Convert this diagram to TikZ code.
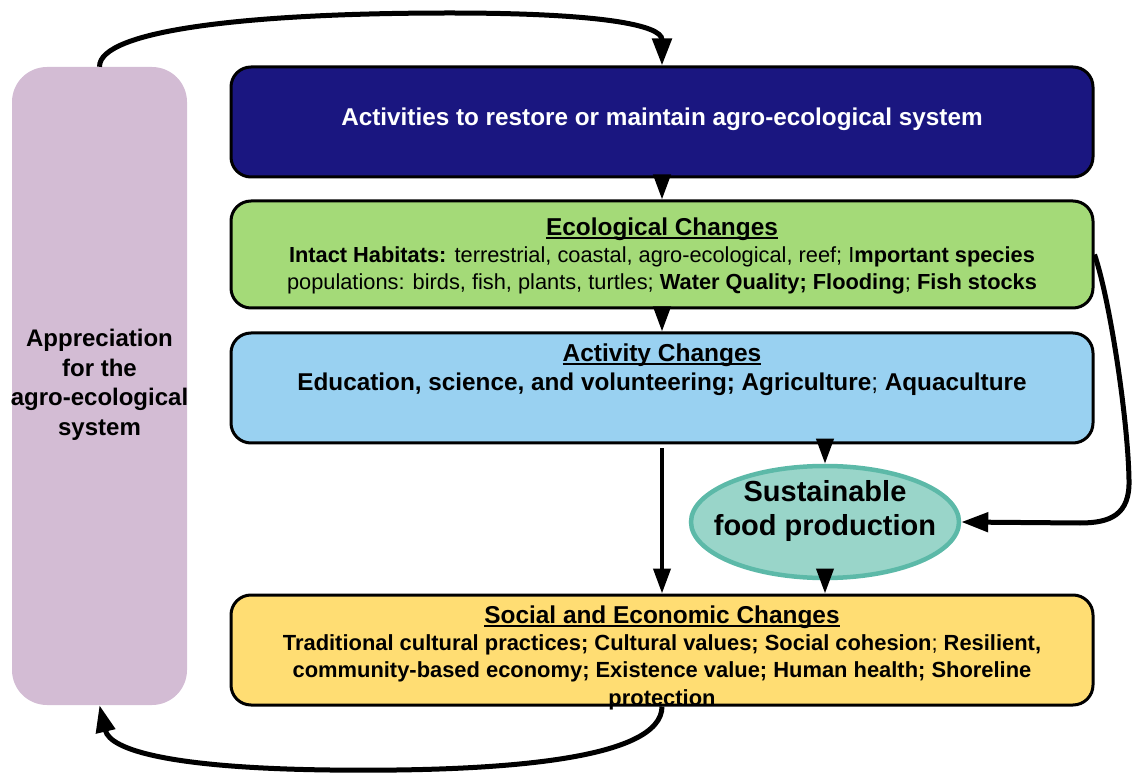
\documentclass[tikz,border=0pt]{standalone}
\usepackage{fontspec}
\setmainfont{Liberation Sans}
\usetikzlibrary{arrows.meta,shapes.geometric}
\definecolor{navybox}{HTML}{1A1680}
\definecolor{greenbox}{HTML}{A4DA78}
\definecolor{bluebox}{HTML}{99D1F1}
\definecolor{yellowbox}{HTML}{FFDD73}
\definecolor{purplebox}{HTML}{D3BCD4}
\definecolor{foodfill}{HTML}{99D5C9}
\definecolor{fooddraw}{HTML}{5CB9A8}
\tikzset{
  panel/.style={draw=black, line width=3pt, rounded corners=20pt, minimum width=862pt, inner sep=0pt},
  txt/.style={align=center, inner sep=0pt},
  arr/.style={-{Triangle[length=25pt,width=17pt]}, line width=4pt},
  arrc/.style={-{Triangle[length=27pt,width=19pt]}, line width=5pt},
}
\newcommand{\fs}[2]{\fontsize{#1}{#2}\selectfont}
\newcommand{\myul}[1]{\setbox0=\hbox{#1}\rlap{\rule[-3.5pt]{\wd0}{2pt}}\box0}
\begin{document}
\begin{tikzpicture}[x=1pt,y=-1pt]
\useasboundingbox (0,0) rectangle (1133,775);
% boxes
\node[fill=purplebox, rounded corners=35pt, minimum width=175pt, minimum height=638pt, inner sep=0pt] (purple) at (99.5,386) {};
\node[panel, fill=navybox, minimum height=110pt] (act) at (662,122) {};
\node[panel, fill=greenbox, minimum height=107pt] (eco) at (662,254.5) {};
\node[panel, fill=bluebox, minimum height=110pt] (actv) at (662,388) {};
\node[ellipse, draw=fooddraw, fill=foodfill, line width=4.5pt, minimum width=268pt, minimum height=112pt, inner sep=0pt] (food) at (825,522) {};
\node[panel, fill=yellowbox, minimum height=110pt] (soc) at (662,650) {};
% texts
\node[txt, font=\fs{24}{29.5}\bfseries] (appt) at (99.5,385) {Appreciation\\for the\\agro-ecological\\system};
\node[txt, text=white, font=\fs{24.3}{26}\bfseries] (actt) at (662,119) {Activities to restore or maintain agro-ecological system};
\node[txt, font=\fs{21.8}{27}] (ecot) at (662,256) {{\fs{24.4}{27}\bfseries\myul{Ecological Changes}}\\
\textbf{Intact Habitats:} terrestrial, coastal, agro-ecological, reef; I\textbf{mportant species}\\
populations: birds, fish, plants, turtles; \textbf{Water Quality; Flooding}; \textbf{Fish stocks}};
\node[txt, font=\fs{24.3}{29}] (actvt) at (662,369.5) {{\fs{24.5}{29}\bfseries\myul{Activity Changes}}\\
\textbf{Education, science, and volunteering; Agriculture}; \textbf{Aquaculture}};
\node[txt, font=\fs{29}{34}\bfseries] (foodt) at (825,511) {Sustainable\\food production};
\node[txt, font=\fs{21.9}{27.3}\bfseries] (soct) at (662,657.5) {{\fs{24.4}{27}\bfseries\myul{Social and Economic Changes}}\\
Traditional cultural practices; Cultural values; Social cohesion\textmd{;} Resilient,\\
community-based economy; Existence value; Human health; Shoreline\\
protection};
% connectors
\draw[arr] (act.south) -- (eco.north);
\draw[arr] (eco.south) -- (actv.north);
\draw[arr] (actv.south -| food.north) -- (food.north);
\draw[arr] ([yshift=-4pt]actv.south) -- (soc.north);
\draw[arr] (food.south) -- (food.south |- soc.north);
\draw[arrc] (eco.east) .. controls (1110,300) and (1128,420) .. (1129,480)
  .. controls (1130,515) and (1110,523) .. (1080,523) -- (food.east);
\draw[arrc] (purple.north) .. controls (99,30) and (250,13) .. (450,13)
  .. controls (600,13) and (662,25) .. (act.north);
\draw[arrc] (soc.south) .. controls (662,760) and (500,772) .. (330,770)
  .. controls (170,768) and (110,750) .. (purple.south);
\end{tikzpicture}
\end{document}
